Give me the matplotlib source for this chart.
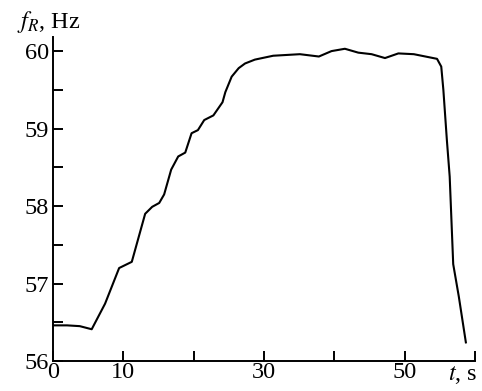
import matplotlib
matplotlib.use("Agg")
import matplotlib.pyplot as plt

# ---------------- DATA ----------------
t = [0.0, 2.0, 3.8, 5.5, 7.4, 9.4, 11.2, 13.1, 14.1, 15.1, 15.8, 16.8, 17.8,
     18.8, 19.7, 20.6, 21.5, 22.8, 24.1, 24.5, 25.4, 26.4, 27.3, 28.7, 31.3,
     35.1, 37.8, 39.6, 41.5, 43.4, 45.3, 47.2, 49.1, 51.3, 54.6, 55.2, 55.5,
     56.0, 56.4, 56.9, 57.7, 58.7]
f_r = [56.46, 56.46, 56.45, 56.41, 56.74, 57.20, 57.28, 57.90, 57.99, 58.04,
       58.15, 58.47, 58.64, 58.69, 58.94, 58.98, 59.11, 59.17, 59.34, 59.47,
       59.67, 59.78, 59.84, 59.89, 59.94, 59.96, 59.93, 60.00, 60.03, 59.98,
       59.96, 59.91, 59.97, 59.96, 59.90, 59.80, 59.50, 58.85, 58.38, 57.25,
       56.83, 56.24]

x_ticks = [0, 10, 20, 30, 40, 50, 60]
x_labels = ["0", "10", "", "30", "", "50", ""]
y_ticks = [56, 57, 58, 59, 60]
y_minor = [56.5, 57.5, 58.5, 59.5]

# ---------------- STYLE ----------------
plt.rcParams["font.family"] = ["Liberation Serif", "DejaVu Serif"]
plt.rcParams["mathtext.fontset"] = "stix"
FS = 17.5

fig = plt.figure(figsize=(4.82, 3.91), dpi=100)
ax = fig.add_axes([0.110, 0.0767, 0.8755, 0.8283])

ax.plot(t, f_r, color="black", lw=1.5)

ax.set_xlim(0, 60)
ax.set_ylim(56, 60.18)

for side in ["top", "right"]:
    ax.spines[side].set_visible(False)
for side in ["left", "bottom"]:
    ax.spines[side].set_linewidth(1.4)

ax.set_xticks(x_ticks)
ax.set_xticklabels(x_labels, fontsize=FS)
ax.set_yticks(y_ticks)
ax.set_yticklabels([str(v) for v in y_ticks], fontsize=FS)
ax.set_yticks(y_minor, minor=True)
ax.tick_params(axis="both", which="both", direction="in", length=7.5,
               width=1.4, color="black")
ax.tick_params(axis="x", pad=1)
ax.tick_params(axis="y", pad=3)

# axis titles
fig.text(0.035, 0.928, r"$f_R$, Hz", fontsize=FS, ha="left", va="baseline")
fig.text(0.991, 0.0767 - 0.0075, r"$t$, s", fontsize=FS, ha="right", va="top")

fig.savefig("out.png", dpi=100)
